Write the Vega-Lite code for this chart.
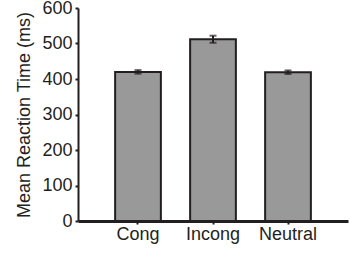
{
  "$schema": "https://vega.github.io/schema/vega-lite/v6.json",
  "width": 270,
  "height": 213,
  "autosize": {"type": "none"},
  "padding": {"left": 78, "top": 8, "right": 2, "bottom": 33},
  "background": "white",
  "config": {
    "view": {"stroke": null},
    "font": "Liberation Sans",
    "axis": {
      "labelFont": "Liberation Sans",
      "titleFont": "Liberation Sans",
      "labelFontSize": 18,
      "titleFontSize": 18,
      "titleFontWeight": "normal",
      "labelColor": "#231f20",
      "titleColor": "#231f20",
      "domainColor": "#231f20",
      "tickColor": "#231f20",
      "grid": false,
      "tickSize": 3,
      "labelOverlap": false
    },
    "axisY": {
      "values": [0, 100, 200, 300, 400, 500, 600],
      "labelFlush": false,
      "domainWidth": 2,
      "tickWidth": 2,
      "labelPadding": 3,
      "titlePadding": 8
    }
  },
  "data": {
    "values": [
      {"condition": "Cong", "rt": 420, "lo": 415, "hi": 425},
      {"condition": "Incong", "rt": 512, "lo": 502, "hi": 522},
      {"condition": "Neutral", "rt": 419, "lo": 414, "hi": 424}
    ]
  },
  "encoding": {
    "x": {
      "field": "condition",
      "type": "nominal",
      "sort": null,
      "scale": {"paddingInner": 0.39, "paddingOuter": 0.495},
      "axis": {
        "title": null,
        "labelAngle": 0,
        "domainWidth": 3,
        "tickWidth": 2,
        "labelPadding": 1
      }
    }
  },
  "layer": [
    {
      "mark": {"type": "bar", "fill": "#999999", "stroke": "#231f20", "strokeWidth": 2},
      "encoding": {
        "y": {
          "field": "rt",
          "type": "quantitative",
          "scale": {"domain": [0, 600], "nice": false},
          "axis": {"title": "Mean Reaction Time (ms)", "values": [0, 100, 200, 300, 400, 500, 600]}
        }
      }
    },
    {
      "mark": {"type": "rule", "stroke": "#231f20", "strokeWidth": 2},
      "encoding": {
        "y": {"field": "lo", "type": "quantitative", "axis": {"title": "Mean Reaction Time (ms)", "values": [0, 100, 200, 300, 400, 500, 600]}},
        "y2": {"field": "hi"}
      }
    },
    {
      "mark": {"type": "tick", "color": "#231f20", "thickness": 2, "size": 7, "orient": "horizontal"},
      "encoding": {"y": {"field": "lo", "type": "quantitative", "axis": {"title": "Mean Reaction Time (ms)", "values": [0, 100, 200, 300, 400, 500, 600]}}}
    },
    {
      "mark": {"type": "tick", "color": "#231f20", "thickness": 2, "size": 7, "orient": "horizontal"},
      "encoding": {"y": {"field": "hi", "type": "quantitative", "axis": {"title": "Mean Reaction Time (ms)", "values": [0, 100, 200, 300, 400, 500, 600]}}}
    }
  ]
}
